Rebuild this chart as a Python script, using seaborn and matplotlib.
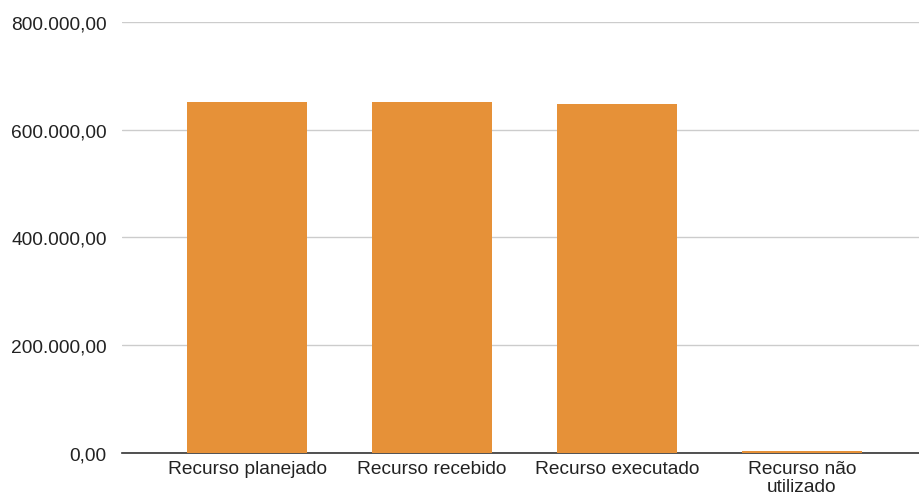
import pandas as pd
import matplotlib
matplotlib.use('Agg')
import matplotlib.pyplot as plt
import seaborn as sns
from matplotlib.ticker import FuncFormatter, MultipleLocator

# Data
categorias = ['Recurso planejado', 'Recurso recebido', 'Recurso executado', 'Recurso não\nutilizado']
valores = [651000, 651000, 648000, 4200]

df = pd.DataFrame({'categoria': categorias, 'valor': valores})

sns.set_style('white')
plt.rcParams['font.family'] = ['Liberation Sans', 'DejaVu Sans']

fig = plt.figure(figsize=(9.2, 5.02), dpi=100)
ax = fig.add_axes([0.1326, 0.0956, 0.8674, 0.859])

sns.barplot(data=df, x='categoria', y='valor', color='#E69138', saturation=1,
            width=0.65, linewidth=0, ax=ax, zorder=3)

# Brazilian number format
def fmt_br(v, pos):
    s = f'{v:,.2f}'
    return s.replace(',', 'X').replace('.', ',').replace('X', '.')

ax.yaxis.set_major_locator(MultipleLocator(200000))
ax.yaxis.set_major_formatter(FuncFormatter(fmt_br))
ax.set_ylim(0, 800000)
ax.set_xlim(-0.678, 3.638)

ax.grid(axis='y', color='#cccccc', linewidth=1, zorder=0)
ax.set_axisbelow(True)
for s in ['top', 'right', 'left']:
    ax.spines[s].set_visible(False)
ax.spines['bottom'].set_color('#333333')
ax.spines['bottom'].set_linewidth(1.2)

ax.tick_params(axis='both', length=0, labelsize=13.8, colors='#222222')
ax.tick_params(axis='y', pad=11)
ax.tick_params(axis='x', pad=5)
for lbl in ax.get_xticklabels():
    lbl.set_linespacing(1.1)
    lbl.set_multialignment('center')

ax.set_xlabel('')
ax.set_ylabel('')

plt.savefig('out.png', dpi=100)
